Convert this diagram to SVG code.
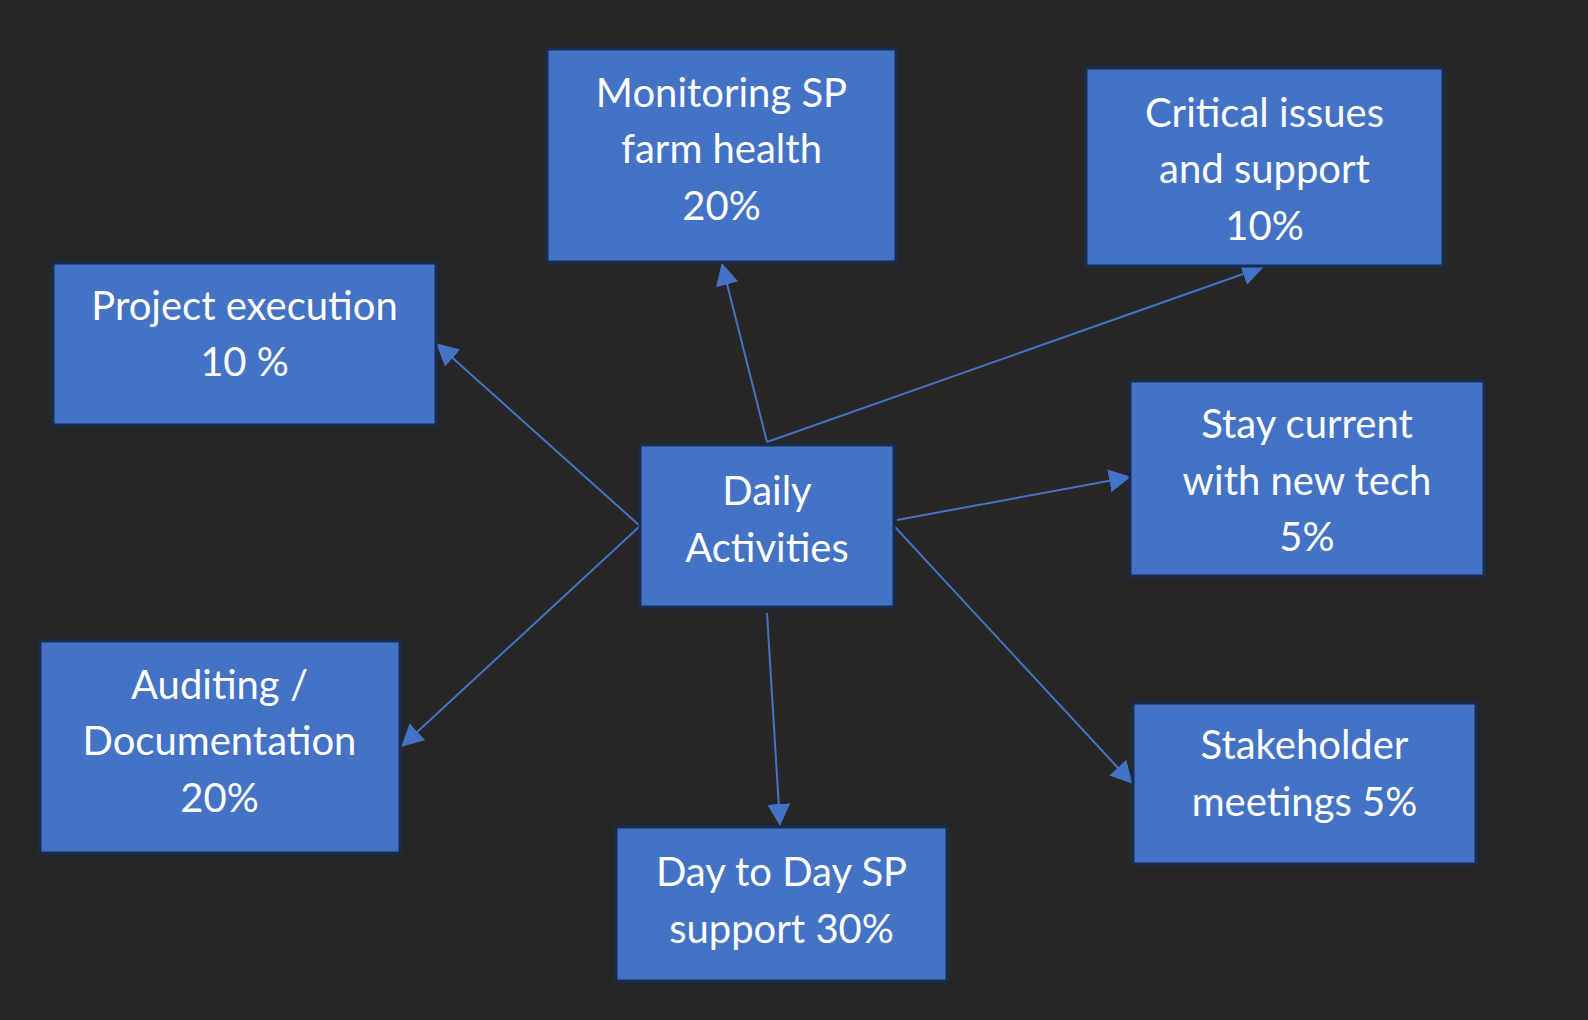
<svg xmlns="http://www.w3.org/2000/svg" width="1588" height="1020" viewBox="0 0 1588 1020">
  <defs>
    <style>
      .box { fill: #4472C4; stroke: #172C51; stroke-width: 3; }
      .lbl { fill: #FFFFFF; font-family: "Lato", "Liberation Sans", sans-serif; font-size: 40px; text-anchor: middle; }
      .conn { stroke: #4472C4; stroke-width: 2; fill: none; marker-end: url(#arrow); }
    </style>
    <marker id="arrow" markerUnits="userSpaceOnUse" markerWidth="22" markerHeight="23" refX="21" refY="11.5" orient="auto">
      <path d="M0,0 L22,11.5 L0,23 Z" fill="#4472C4"/>
    </marker>
  </defs>
  <rect width="1588" height="1020" fill="#262626"/>

  <g id="connectors">
    <line class="conn" x1="767" y1="442" x2="722" y2="264"/>
    <line class="conn" x1="767" y1="442" x2="1263" y2="267"/>
    <line class="conn" x1="640" y1="526" x2="437" y2="344"/>
    <line class="conn" x1="640" y1="526" x2="402" y2="746"/>
    <line class="conn" x1="897" y1="520" x2="1130" y2="477"/>
    <line class="conn" x1="895" y1="527" x2="1132" y2="783"/>
    <line class="conn" x1="767" y1="613" x2="780" y2="825"/>
  </g>

  <g id="monitoring">
    <rect class="box" x="547" y="49" width="349" height="213"/>
    <text class="lbl" x="721.5" y="107">Monitoring SP</text>
    <text class="lbl" x="721.5" y="163">farm health</text>
    <text class="lbl" x="721.5" y="220">20%</text>
  </g>

  <g id="critical">
    <rect class="box" x="1086" y="68" width="357" height="198"/>
    <text class="lbl" x="1264.5" y="127">Critical issues</text>
    <text class="lbl" x="1264.5" y="183">and support</text>
    <text class="lbl" x="1264.5" y="240">10%</text>
  </g>

  <g id="project">
    <rect class="box" x="53" y="263" width="383" height="162"/>
    <text class="lbl" x="244.5" y="320">Project execution</text>
    <text class="lbl" x="244.5" y="376">10 %</text>
  </g>

  <g id="daily">
    <rect class="box" x="640" y="445" width="254" height="162"/>
    <text class="lbl" x="767" y="505">Daily</text>
    <text class="lbl" x="767" y="562">Activities</text>
  </g>

  <g id="staycurrent">
    <rect class="box" x="1130" y="381" width="354" height="195"/>
    <text class="lbl" x="1307" y="438">Stay current</text>
    <text class="lbl" x="1307" y="495">with new tech</text>
    <text class="lbl" x="1307" y="551">5%</text>
  </g>

  <g id="auditing">
    <rect class="box" x="40" y="641" width="360" height="212"/>
    <text class="lbl" x="219.5" y="699">Auditing /</text>
    <text class="lbl" x="219.5" y="755">Documentation</text>
    <text class="lbl" x="219.5" y="812">20%</text>
  </g>

  <g id="daytoday">
    <rect class="box" x="616" y="827" width="331" height="154"/>
    <text class="lbl" x="781.5" y="886">Day to Day SP</text>
    <text class="lbl" x="781.5" y="943">support 30%</text>
  </g>

  <g id="stakeholder">
    <rect class="box" x="1133" y="703" width="343" height="161"/>
    <text class="lbl" x="1304.5" y="759">Stakeholder</text>
    <text class="lbl" x="1304.5" y="816">meetings 5%</text>
  </g>
</svg>
